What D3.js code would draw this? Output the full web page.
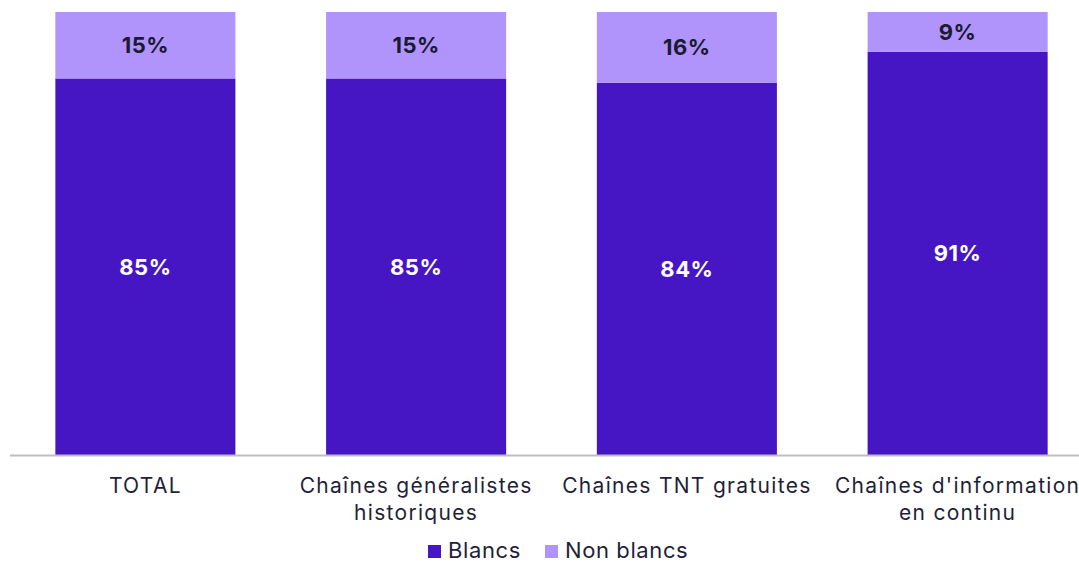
<!DOCTYPE html>
<meta charset="utf-8">
<style>
 body { margin: 0; background: #fff; }
 .catlabel { font-family: Inter, "Noto Sans", sans-serif; font-size: 21px; letter-spacing: 1.3px; fill: #1f1f3a; }
 .vallabel { font-family: Inter, "Noto Sans", sans-serif; font-size: 22px; font-weight: 700; letter-spacing: 0.5px; }
 .legend text { font-family: Inter, "Noto Sans", sans-serif; font-size: 22px; letter-spacing: 0.6px; fill: #1f1f3a; }
</style>
<svg class="chart"></svg>
<script src="https://cdn.jsdelivr.net/npm/d3@7"></script>
<script>

 var categories = [["TOTAL"], ["Chaînes généralistes", "historiques"], ["Chaînes TNT gratuites"], ["Chaînes d'information", "en continu"]];
 var blancs = [85, 85, 84, 91];
 var nonBlancs = [15, 15, 16, 9];
 var seriesNames = ["Blancs", "Non blancs"];
 var colors = ["#4716c4", "#b094fb"];

 var W = 1079, H = 563;
 var svg = d3.select(".chart").attr("width", W).attr("height", H);

 var x = d3.scaleBand().domain(d3.range(categories.length)).range([10, 1093])
           .paddingInner(0.335).paddingOuter(0.1675);
 var y = d3.scaleLinear().domain([0, 100]).range([455, 12]);

 var rows = categories.map(function(c, i) { return {i: i, Blancs: blancs[i], "Non blancs": nonBlancs[i]}; });
 var stack = d3.stack().keys(seriesNames)(rows);

 var layer = svg.selectAll(".layer").data(stack).enter().append("g")
                .attr("fill", function(d, k) { return colors[k]; });

 layer.selectAll("rect").data(function(d) { return d; }).enter().append("rect")
      .attr("x", function(d) { return x(d.data.i); })
      .attr("width", x.bandwidth())
      .attr("y", function(d) { return y(d[1]); })
      .attr("height", function(d) { return y(d[0]) - y(d[1]); });

 layer.each(function(s, k) {
     d3.select(this).selectAll("text").data(s).enter().append("text")
       .attr("class", "vallabel")
       .attr("x", function(d) { return x(d.data.i) + x.bandwidth() / 2; })
       .attr("y", function(d) { return (y(d[0]) + y(d[1])) / 2; })
       .attr("dy", "0.36em")
       .attr("text-anchor", "middle")
       .attr("fill", k == 0 ? "#ffffff" : "#1a1a33")
       .text(function(d) { return (d[1] - d[0]) + "%"; });
 });

 // axis line
 svg.append("line").attr("x1", 10).attr("x2", W).attr("y1", 455.5).attr("y2", 455.5)
    .attr("stroke", "#bfbfbf").attr("stroke-width", 2);

 svg.selectAll(".catlabel").data(categories).enter().append("text")
    .attr("class", "catlabel")
    .attr("text-anchor", "middle")
    .attr("transform", function(d, i) { return "translate(" + (x(i) + x.bandwidth() / 2) + ",493)"; })
    .selectAll("tspan").data(function(d) { return d; }).enter().append("tspan")
    .attr("x", 0).attr("y", function(d, j) { return j * 27; })
    .text(function(d) { return d; });

 var legend = svg.append("g").attr("class", "legend");
 var lx = [428, 545];
 seriesNames.forEach(function(name, k) {
     legend.append("rect").attr("x", lx[k]).attr("y", 545).attr("width", 13).attr("height", 13).attr("fill", colors[k]);
     legend.append("text").attr("x", lx[k] + 20).attr("y", 558).text(name);
 });

</script>
